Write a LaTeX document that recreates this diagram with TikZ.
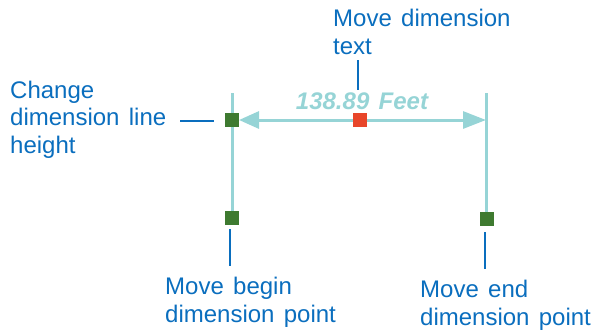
\documentclass[tikz,border=0pt]{standalone}
\usepackage{fontspec}
\setmainfont[WordSpace=1.4]{Liberation Sans}
\usetikzlibrary{arrows.meta}
\definecolor{lblue}{RGB}{10,110,190}
\definecolor{dimteal}{RGB}{150,212,214}
\definecolor{hgreen}{RGB}{62,122,48}
\definecolor{hred}{RGB}{232,70,42}
\tikzset{
  lbl/.style={anchor=base west,inner sep=0pt,align=left,text=lblue,
    font=\fontsize{24}{27.3}\selectfont},
  leader/.style={draw=lblue,line width=2.6pt},
  dimln/.style={draw=dimteal,line width=3pt},
  handle/.style={minimum size=14pt,inner sep=0pt,draw=none}
}
\begin{document}
\begin{tikzpicture}[x=1pt,y=-1pt]
\useasboundingbox (0,0) rectangle (597,330);
% extension lines
\coordinate (lt) at (232,93);
\coordinate (rt) at (486,93);
\coordinate (rm) at (486,120);
\node[handle,fill=hgreen] (gl) at (232,218) {};
\node[handle,fill=hgreen] (gr) at (487,219) {};
\draw[dimln] (lt) -- (gl.north);
\draw[dimln] (rt) -- (486,212);
% dimension line
\coordinate (lm) at (239,120);
\draw[dimln,{Triangle[length=20pt,width=17pt]}-{Triangle[length=23pt,width=17pt]}] (lm) -- (rm);
\node[handle,fill=hgreen] (gtop) at (232,120) {};
\node[handle,fill=hred] (red) at (360,120) {};
% dimension text
\node[anchor=base,inner sep=0pt,text=dimteal,font=\fontsize{24}{26}\selectfont\bfseries\itshape] (dimtext) at (362,109) {138.89 Feet};
% labels
\node[lbl] (ltop) at (333,54) {Move dimension\\text};
\node[lbl] (lleft) at (10,153) {Change\\dimension line\\height};
\node[lbl] (lbegin) at (165,322) {Move begin\\dimension point};
\node[lbl] (lend) at (420,325) {Move end\\dimension point};
% leaders
\coordinate (t1) at (358,60);
\coordinate (t2) at (358,90);
\coordinate (l1) at (180,121);
\coordinate (l2) at (214,121);
\coordinate (b1) at (230,229);
\coordinate (b2) at (230,266);
\coordinate (e1) at (485,232);
\coordinate (e2) at (485,269);
\draw[leader] (t1) -- (t2);
\draw[leader] (l1) -- (l2);
\draw[leader] (b1) -- (b2);
\draw[leader] (e1) -- (e2);
\end{tikzpicture}
\end{document}
